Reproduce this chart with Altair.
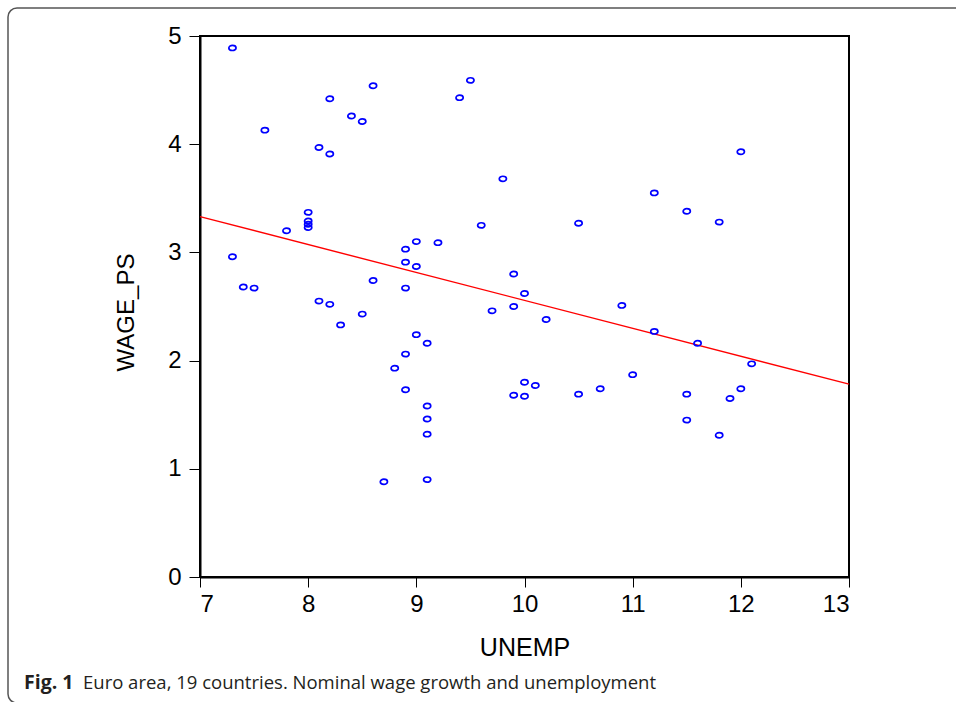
import altair as alt
import pandas as pd

unemp = [7.3, 8.6, 8.2, 9.5, 9.4, 8.4, 8.5, 7.6, 8.1, 8.2,
         9.8, 8.0, 8.0, 8.0, 8.0, 7.8, 9.6, 7.3, 9.0, 9.2,
         8.9, 8.9, 9.0, 9.9, 7.4, 7.5, 8.6, 8.9, 12.0, 11.2,
         11.5, 11.8, 10.5, 10.0, 8.1, 8.2, 8.5, 8.3, 9.7, 9.9,
         9.0, 9.1, 8.9, 8.8, 8.9, 9.9, 9.1, 9.1, 9.1, 8.7,
         9.1, 10.2, 10.9, 11.2, 11.6, 12.1, 11.0, 10.0, 10.1, 10.0,
         10.5, 10.7, 11.5, 12.0, 11.9, 11.5, 11.8]
wage_ps = [4.89, 4.54, 4.42, 4.59, 4.43, 4.26, 4.21, 4.13, 3.97, 3.91,
           3.68, 3.37, 3.29, 3.26, 3.23, 3.20, 3.25, 2.96, 3.10, 3.09,
           3.03, 2.91, 2.87, 2.80, 2.68, 2.67, 2.74, 2.67, 3.93, 3.55,
           3.38, 3.28, 3.27, 2.62, 2.55, 2.52, 2.43, 2.33, 2.46, 2.50,
           2.24, 2.16, 2.06, 1.93, 1.73, 1.68, 1.58, 1.46, 1.32, 0.88,
           0.90, 2.38, 2.51, 2.27, 2.16, 1.97, 1.87, 1.80, 1.77, 1.67,
           1.69, 1.74, 1.69, 1.74, 1.65, 1.45, 1.31]

x_ticks = [7, 8, 9, 10, 11, 12, 13]
y_ticks = [0, 1, 2, 3, 4, 5]

caption_bold = "Fig. 1"
caption_text = "Euro area, 19 countries. Nominal wage growth and unemployment"

df = pd.DataFrame({"UNEMP": unemp, "WAGE_PS": wage_ps})

W, H = 649, 541

x_enc = alt.X("UNEMP:Q",
              scale=alt.Scale(domain=[7, 13], nice=False, zero=False),
              axis=alt.Axis(values=x_ticks, format="d", title="UNEMP", grid=False,
                            labelFont="Liberation Sans", labelFontSize=24,
                            labelColor="black", labelPadding=5,
                            tickSize=10, tickColor="black", tickWidth=1,
                            domainColor="black", domainWidth=2,
                            titleFont="Liberation Sans", titleFontSize=25,
                            titleFontWeight="normal", titleColor="black",
                            titleBaseline="alphabetic", titleY=78))
y_enc = alt.Y("WAGE_PS:Q",
              scale=alt.Scale(domain=[0, 5], nice=False),
              axis=alt.Axis(values=y_ticks, format="d", title="WAGE_PS", grid=False,
                            labelFont="Liberation Sans", labelFontSize=24,
                            labelColor="black", labelPadding=8,
                            tickSize=11, tickColor="black", tickWidth=1,
                            domainColor="black", domainWidth=2,
                            titleFont="Liberation Sans", titleFontSize=24,
                            titleFontWeight="normal", titleColor="black",
                            titleBaseline="alphabetic", titleX=-67, titleY=276,
                            titleAngle=-90))

base = alt.Chart(df)

ellipse = "M-1,0 A1,0.72 0 1,0 1,0 A1,0.72 0 1,0 -1,0 Z"

points = base.mark_point(shape=ellipse, filled=False, color="#0000FF",
                         size=52, strokeWidth=1.7, opacity=1).encode(x=x_enc, y=y_enc)

fit = base.transform_regression("UNEMP", "WAGE_PS", extent=[7, 13]).mark_line(
    color="#FF0000", strokeWidth=1.4).encode(x="UNEMP:Q", y="WAGE_PS:Q")

one = alt.Data(values=[{"k": 0}])

frame = alt.Chart(one).mark_rect(fill=None, fillOpacity=0, stroke="#555555",
                                 strokeWidth=1.5, cornerRadius=9).encode(
    x=alt.value(-192), x2=alt.value(790), y=alt.value(-28), y2=alt.value(667))

cap1 = alt.Chart(one).transform_calculate(t=f"'{caption_bold}'").mark_text(
    align="left", baseline="alphabetic", font="Open Sans", fontSize=19.5,
    fontWeight="bold", color="#231f20").encode(
    x=alt.value(-176), y=alt.value(653), text="t:N")

cap2 = alt.Chart(one).transform_calculate(t=f"'{caption_text}'").mark_text(
    align="left", baseline="alphabetic", font="Open Sans", fontSize=18.5,
    color="#231f20").encode(
    x=alt.value(-117), y=alt.value(653), text="t:N")

chart = alt.layer(frame, fit, points, cap1, cap2).properties(
    width=W, height=H,
    autosize=alt.AutoSizeParams(type="none"),
    padding={"left": 200, "top": 36, "right": 107, "bottom": 125},
    background="white",
).configure_view(stroke="black", strokeWidth=2)

chart.save("out.html", embed_options={"renderer": "svg", "actions": False})
